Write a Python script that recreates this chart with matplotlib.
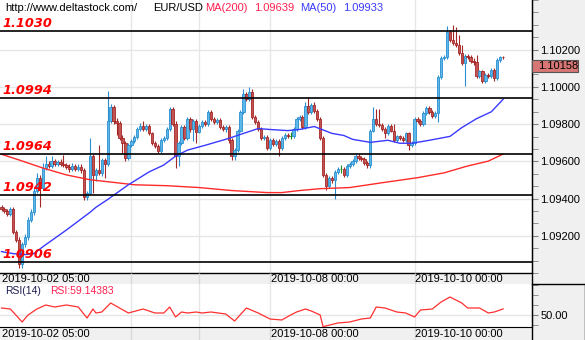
import matplotlib
matplotlib.use("Agg")
import matplotlib.pyplot as plt
import numpy as np
from matplotlib.patches import Rectangle
from matplotlib.lines import Line2D

plt.rcParams['font.family'] = ['Liberation Sans', 'DejaVu Sans']

# ---------------- data (hourly EUR/USD candles) ----------------
opens = [
 1.09353, 1.09342, 1.09332, 1.09316, 1.09342, 1.09221, 1.09178, 1.09051, 1.09157, 1.09194,
 1.09284, 1.09326, 1.09443, 1.09512, 1.09459, 1.09564, 1.09586, 1.09575, 1.09601, 1.09586,
 1.09596, 1.09586, 1.09580, 1.09570, 1.09559, 1.09575, 1.09559, 1.09570, 1.09554, 1.09406,
 1.09432, 1.09628, 1.09527, 1.09554, 1.09538, 1.09607, 1.09586, 1.09818, 1.09892, 1.09818,
 1.09808, 1.09723, 1.09697, 1.09617, 1.09686, 1.09707, 1.09728, 1.09776, 1.09792, 1.09776,
 1.09792, 1.09750, 1.09697, 1.09681, 1.09654, 1.09713, 1.09723, 1.09776, 1.09882, 1.09802,
 1.09628, 1.09697, 1.09787, 1.09723, 1.09829, 1.09776, 1.09818, 1.09760, 1.09792, 1.09813,
 1.09802, 1.09866, 1.09829, 1.09813, 1.09824, 1.09787, 1.09776, 1.09787, 1.09713, 1.09628,
 1.09660, 1.09765, 1.09866, 1.09961, 1.09935, 1.09972, 1.09839, 1.09813, 1.09776, 1.09723,
 1.09728, 1.09670, 1.09713, 1.09691, 1.09707, 1.09670, 1.09723, 1.09739, 1.09734, 1.09734,
 1.09776, 1.09829, 1.09839, 1.09787, 1.09898, 1.09866, 1.09903, 1.09871, 1.09829, 1.09723,
 1.09527, 1.09469, 1.09512, 1.09501, 1.09543, 1.09559, 1.09559, 1.09527, 1.09575, 1.09586,
 1.09601, 1.09628, 1.09617, 1.09612, 1.09591, 1.09580, 1.09765, 1.09829, 1.09802, 1.09797,
 1.09776, 1.09750, 1.09792, 1.09765, 1.09713, 1.09734, 1.09723, 1.09713, 1.09750, 1.09686,
 1.09697, 1.09829, 1.09818, 1.09802, 1.09861, 1.09887, 1.09866, 1.09845, 1.09861, 1.10051,
 1.10157, 1.10162, 1.10294, 1.10252, 1.10236, 1.10226, 1.10183, 1.10130, 1.10167, 1.10162,
 1.10141, 1.10136, 1.10056, 1.10083, 1.10030, 1.10062, 1.10056, 1.10093, 1.10046, 1.10146,
 1.10160]
highs = [
 1.09363, 1.09353, 1.09342, 1.09353, 1.09353, 1.09231, 1.09194, 1.09168, 1.09210, 1.09300,
 1.09342, 1.09459, 1.09538, 1.09527, 1.09591, 1.09628, 1.09601, 1.09628, 1.09612, 1.09607,
 1.09612, 1.09633, 1.09591, 1.09586, 1.09591, 1.09586, 1.09586, 1.09586, 1.09564, 1.09443,
 1.09723, 1.09638, 1.09564, 1.09686, 1.09617, 1.09617, 1.09977, 1.09908, 1.09903, 1.09834,
 1.09818, 1.09739, 1.09707, 1.09697, 1.09718, 1.09739, 1.09787, 1.09808, 1.09818, 1.09802,
 1.09802, 1.09760, 1.09707, 1.09691, 1.09723, 1.09734, 1.09787, 1.09892, 1.09892, 1.09818,
 1.09707, 1.09797, 1.09797, 1.09839, 1.09839, 1.09829, 1.09829, 1.09802, 1.09824, 1.09824,
 1.09877, 1.09877, 1.09839, 1.09834, 1.09834, 1.09797, 1.09797, 1.09797, 1.09723, 1.09670,
 1.09776, 1.09877, 1.09988, 1.09972, 1.09998, 1.09988, 1.09850, 1.09824, 1.09787, 1.09739,
 1.09739, 1.09723, 1.09723, 1.09718, 1.09718, 1.09734, 1.09750, 1.09750, 1.09755, 1.09787,
 1.09839, 1.09850, 1.09850, 1.09919, 1.09945, 1.09914, 1.09919, 1.09882, 1.09839, 1.09734,
 1.09538, 1.09522, 1.09522, 1.09554, 1.09570, 1.09580, 1.09570, 1.09586, 1.09596, 1.09612,
 1.09638, 1.09638, 1.09628, 1.09623, 1.09601, 1.09776, 1.09892, 1.09882, 1.09882, 1.09808,
 1.09787, 1.09802, 1.09802, 1.09802, 1.09744, 1.09744, 1.09734, 1.09760, 1.09760, 1.09707,
 1.09839, 1.09839, 1.09829, 1.09871, 1.09898, 1.09898, 1.09877, 1.09871, 1.10062, 1.10167,
 1.10173, 1.10326, 1.10305, 1.10331, 1.10321, 1.10279, 1.10226, 1.10178, 1.10178, 1.10173,
 1.10157, 1.10173, 1.10093, 1.10093, 1.10072, 1.10072, 1.10104, 1.10104, 1.10157, 1.10167,
 1.10166]
lows = [
 1.09332, 1.09321, 1.09305, 1.09305, 1.09210, 1.09168, 1.09025, 1.09025, 1.09141, 1.09178,
 1.09273, 1.09310, 1.09432, 1.09353, 1.09448, 1.09554, 1.09564, 1.09564, 1.09575, 1.09575,
 1.09575, 1.09570, 1.09559, 1.09543, 1.09549, 1.09549, 1.09549, 1.09538, 1.09390, 1.09390,
 1.09422, 1.09432, 1.09496, 1.09527, 1.09522, 1.09512, 1.09575, 1.09808, 1.09802, 1.09739,
 1.09713, 1.09644, 1.09601, 1.09607, 1.09676, 1.09697, 1.09718, 1.09765, 1.09765, 1.09765,
 1.09739, 1.09686, 1.09670, 1.09644, 1.09644, 1.09702, 1.09713, 1.09765, 1.09792, 1.09564,
 1.09575, 1.09686, 1.09713, 1.09713, 1.09760, 1.09707, 1.09697, 1.09750, 1.09781, 1.09792,
 1.09792, 1.09818, 1.09802, 1.09802, 1.09776, 1.09765, 1.09760, 1.09697, 1.09607, 1.09607,
 1.09649, 1.09755, 1.09855, 1.09924, 1.09924, 1.09829, 1.09802, 1.09765, 1.09713, 1.09713,
 1.09660, 1.09660, 1.09681, 1.09681, 1.09628, 1.09660, 1.09713, 1.09723, 1.09718, 1.09723,
 1.09765, 1.09818, 1.09776, 1.09776, 1.09855, 1.09855, 1.09861, 1.09818, 1.09713, 1.09517,
 1.09448, 1.09459, 1.09485, 1.09395, 1.09533, 1.09538, 1.09517, 1.09517, 1.09564, 1.09575,
 1.09591, 1.09607, 1.09601, 1.09580, 1.09564, 1.09564, 1.09755, 1.09792, 1.09787, 1.09765,
 1.09723, 1.09739, 1.09755, 1.09702, 1.09702, 1.09713, 1.09702, 1.09702, 1.09660, 1.09676,
 1.09686, 1.09808, 1.09792, 1.09792, 1.09850, 1.09855, 1.09834, 1.09834, 1.09813, 1.10041,
 1.10146, 1.10152, 1.10242, 1.10226, 1.10215, 1.10173, 1.10120, 1.10003, 1.10152, 1.10130,
 1.10120, 1.10046, 1.10046, 1.10019, 1.10019, 1.10046, 1.10046, 1.10030, 1.10035, 1.10136,
 1.10148]
closes = [
 1.09342, 1.09332, 1.09316, 1.09342, 1.09221, 1.09178, 1.09051, 1.09157, 1.09194, 1.09284,
 1.09326, 1.09443, 1.09512, 1.09459, 1.09564, 1.09586, 1.09575, 1.09601, 1.09586, 1.09596,
 1.09586, 1.09580, 1.09570, 1.09559, 1.09575, 1.09559, 1.09570, 1.09554, 1.09406, 1.09432,
 1.09628, 1.09527, 1.09554, 1.09538, 1.09607, 1.09586, 1.09818, 1.09892, 1.09818, 1.09808,
 1.09723, 1.09697, 1.09617, 1.09686, 1.09707, 1.09728, 1.09776, 1.09792, 1.09776, 1.09792,
 1.09750, 1.09697, 1.09681, 1.09654, 1.09713, 1.09723, 1.09776, 1.09882, 1.09802, 1.09628,
 1.09697, 1.09787, 1.09723, 1.09829, 1.09776, 1.09818, 1.09760, 1.09792, 1.09813, 1.09802,
 1.09866, 1.09829, 1.09813, 1.09824, 1.09787, 1.09776, 1.09787, 1.09713, 1.09628, 1.09660,
 1.09765, 1.09866, 1.09961, 1.09935, 1.09972, 1.09839, 1.09813, 1.09776, 1.09723, 1.09728,
 1.09670, 1.09713, 1.09691, 1.09707, 1.09670, 1.09723, 1.09739, 1.09734, 1.09734, 1.09776,
 1.09829, 1.09839, 1.09787, 1.09898, 1.09866, 1.09903, 1.09871, 1.09829, 1.09723, 1.09527,
 1.09469, 1.09512, 1.09501, 1.09543, 1.09559, 1.09559, 1.09527, 1.09575, 1.09586, 1.09601,
 1.09628, 1.09617, 1.09612, 1.09591, 1.09580, 1.09765, 1.09829, 1.09802, 1.09797, 1.09776,
 1.09750, 1.09792, 1.09765, 1.09713, 1.09734, 1.09723, 1.09713, 1.09750, 1.09686, 1.09697,
 1.09829, 1.09818, 1.09802, 1.09861, 1.09887, 1.09866, 1.09845, 1.09861, 1.10051, 1.10157,
 1.10162, 1.10294, 1.10252, 1.10236, 1.10226, 1.10183, 1.10130, 1.10167, 1.10162, 1.10141,
 1.10136, 1.10056, 1.10083, 1.10030, 1.10062, 1.10056, 1.10093, 1.10046, 1.10146, 1.10160,
 1.10158]

ma50_idx = [0, 4, 8, 11, 14, 22, 30, 32, 36, 43, 50, 55, 59, 63, 69, 77, 82, 87, 91, 97,
            101, 106, 112, 116, 119, 125, 131, 135, 139, 145, 152, 156, 161, 166, 170]
ma50_val = [1.09115, 1.09104, 1.09099, 1.09104, 1.09141, 1.09231, 1.09326, 1.09353, 1.09395, 1.09474,
            1.09543, 1.09580, 1.09628, 1.09660, 1.09686, 1.09723, 1.09750, 1.09776, 1.09771, 1.09765,
            1.09771, 1.09787, 1.09750, 1.09739, 1.09718, 1.09702, 1.09713, 1.09697, 1.09697, 1.09713,
            1.09734, 1.09781, 1.09829, 1.09866, 1.09933]

ma200_idx = [0, 6, 14, 22, 30, 39, 45, 56, 67, 78, 90, 95, 101, 108, 118, 129, 141, 150, 158, 165, 170]
ma200_val = [1.09638, 1.09607, 1.09564, 1.09527, 1.09501, 1.09485, 1.09474, 1.09469, 1.09459, 1.09443,
             1.09432, 1.09432, 1.09443, 1.09453, 1.09459, 1.09485, 1.09512, 1.09538, 1.09575, 1.09601,
             1.09639]

rsi_idx = [0, 3, 7, 9, 12, 15, 18, 22, 26, 29, 31, 32, 34, 37, 40, 43, 48, 52, 55, 57,
           59, 61, 63, 66, 68, 71, 76, 79, 83, 87, 91, 95, 98, 100, 103, 105, 108, 109, 114, 118,
           122, 125, 127, 130, 134, 137, 140, 142, 146, 149, 152, 156, 158, 162, 165, 167, 169, 170]
rsi_val = [60.5, 59, 39.5, 50, 59, 65, 62, 65, 62, 45.5, 59, 53, 54.5, 68, 60.5, 53, 59, 53, 53, 62,
           47, 54.5, 53, 54.5, 53, 54.5, 51.5, 41, 60.5, 53, 44, 42.5, 50, 54.5, 59, 56, 50, 32.5, 38, 39.5,
           44, 45.5, 62, 60.5, 54.5, 53, 47, 57.5, 59, 69.5, 77, 68, 60.5, 60.5, 53, 54.5, 57.5, 59.14383]

levels = [1.1030, 1.0994, 1.0964, 1.0942, 1.0906]
level_labels = ["1.1030", "1.0994", "1.0964", "1.0942", "1.0906"]

price_ticks = [1.092, 1.094, 1.096, 1.098, 1.100, 1.102]
price_tick_labels = ["1.09200", "1.09400", "1.09600", "1.09800", "1.10000", "1.10200"]
last_price_label = "1.10158"

rsi_ticks = [50]
rsi_tick_labels = ["50.00"]

date_idx = [0, 91, 140]
date_labels = ["2019-10-02 05:00", "2019-10-08 00:00", "2019-10-10 00:00"]
grid_idx = [44, 67, 91, 140]

# ---------------- layout ----------------
W, H = 585, 340
fig = plt.figure(figsize=(W / 100, H / 100), dpi=100)
fig.patch.set_facecolor('white')
PANEL = '#f0f0f0'
XL = (-0.51, 179.8)


def box(x0, y0, x1, y1):
    return [x0 / W, 1 - y1 / H, (x1 - x0) / W, (y1 - y0) / H]


def fig_rect(x0, y0, x1, y1, fc, ec='none', lw=0, z=-5):
    fig.add_artist(Rectangle((x0 / W, 1 - y1 / H), (x1 - x0) / W, (y1 - y0) / H,
                             transform=fig.transFigure, facecolor=fc, edgecolor=ec,
                             linewidth=lw, zorder=z))


def fig_line(x0, y0, x1, y1, color='black', lw=1.0, z=10):
    fig.add_artist(Line2D([x0 / W, x1 / W], [1 - y0 / H, 1 - y1 / H],
                          transform=fig.transFigure, color=color, linewidth=lw, zorder=z))


fig_rect(532, 0, 585, 340, PANEL)
fig_rect(0, 273, 532, 284, PANEL)
fig_rect(0, 327, 532, 340, PANEL)

# ---------------- main price axes ----------------
ax = fig.add_axes(box(0, 0, 532, 273))
ax.set_xlim(*XL)
ax.set_ylim(1.09020, 1.10464)
ax.set_facecolor('white')

idx = np.arange(len(closes))
o = np.array(opens)
c = np.array(closes)
UP_FACE, UP_EDGE = '#5cb8e8', '#2a8fd0'
DN_FACE, DN_EDGE = '#c25454', '#a52626'
DOJI = '#1e8c1e'
face, edge = [], []
for oo, cc in zip(o, c):
    if cc > oo:
        face.append(UP_FACE); edge.append(UP_EDGE)
    elif cc < oo:
        face.append(DN_FACE); edge.append(DN_EDGE)
    else:
        face.append(DOJI); edge.append(DOJI)

ax.vlines(idx, lows, highs, colors=edge, linewidth=0.8, zorder=3)
ax.bar(idx, c - o, bottom=o, width=0.8, color=face, edgecolor=edge,
       linewidth=0.6, zorder=4)

ax.plot(ma200_idx, ma200_val, color='#ff2a2a', lw=1.0, zorder=4.5)
ax.plot(ma50_idx, ma50_val, color='#3a3aff', lw=1.0, zorder=4.5)

for lv, lab in zip(levels, level_labels):
    ax.axhline(lv, color='black', lw=1.2, zorder=5)
    ax.annotate(lab, xy=(0, lv), xycoords=('axes fraction', 'data'),
                xytext=(2, 3.0), textcoords='offset points', ha='left', va='baseline',
                fontsize=9.3, fontweight='bold', fontstyle='italic',
                family='DejaVu Sans', color='#ff0000', zorder=6)

ax.yaxis.tick_right()
ax.set_yticks(price_ticks)
ax.set_yticklabels(price_tick_labels)
minor = [v for v in np.arange(1.09, 1.1047, 0.002 / 3)
         if min(abs(v - t) for t in price_ticks) > 1e-6]
ax.set_yticks(minor, minor=True)
ax.tick_params(axis='y', which='both', direction='out', length=4, color='#808080',
               pad=2, labelsize=8, labelcolor='black')
ax.set_xticks(grid_idx)
ax.tick_params(axis='x', length=0, labelbottom=False)
ax.grid(True, which='major', color='#e6e6e6', lw=1.0, zorder=0)
ax.set_axisbelow(True)
for s in ['left', 'top']:
    ax.spines[s].set_visible(False)
ax.spines['right'].set_color('black')
ax.spines['bottom'].set_color('black')
ax.spines['bottom'].set_linewidth(1.0)

# header texts
hdr = [("http://www.deltastock.com/", 5, 'black'),
       ("EUR/USD", 153, 'black'),
       ("MA(200)", 205, '#ff2050'),
       ("1.09639", 254, '#ff2050'),
       ("MA(50)", 300, '#3a3aff'),
       ("1.09933", 343, '#3a3aff')]
for txt, xp, col in hdr:
    ax.text(xp / 532, 1 - 8 / 273, txt, transform=ax.transAxes, ha='left', va='center',
            fontsize=8, color=col, zorder=7)

# ---------------- date bands ----------------
for (y0, y1) in [(273, 284), (327, 340)]:
    band = fig.add_axes(box(0, y0, 532, y1))
    band.set_xlim(*XL)
    band.set_ylim(0, 1)
    band.set_facecolor(PANEL)
    band.axis('off')
    band.vlines(grid_idx, 0, 1, colors='#d9d9d9', lw=1.0)
    for di, dl in zip(date_idx, date_labels):
        band.annotate(dl, xy=(di, 0.5), xycoords='data', xytext=(0.6, -0.5),
                      textcoords='offset points', ha='left', va='center',
                      fontsize=8, color='black')

# ---------------- RSI axes ----------------
rax = fig.add_axes(box(0, 284, 532, 327))
rax.set_xlim(*XL)
rax.set_ylim(32, 96.5)
rax.plot(rsi_idx, rsi_val, color='#ff3030', lw=0.9, zorder=3)
rax.yaxis.tick_right()
rax.set_yticks(rsi_ticks)
rax.set_yticklabels(rsi_tick_labels)
rax.set_yticks([35, 65, 80, 95], minor=True)
rax.tick_params(axis='y', which='both', direction='out', length=4, color='#808080',
                pad=2, labelsize=8)
rax.set_xticks(grid_idx)
rax.tick_params(axis='x', length=0, labelbottom=False)
rax.grid(True, which='major', color='#e6e6e6', lw=1.0, zorder=0)
for s in ['left', 'top']:
    rax.spines[s].set_visible(False)
rax.spines['right'].set_color('black')
rax.spines['bottom'].set_color('black')
rax.text(5 / 532, 1 - 7 / 43, "RSI(14)", transform=rax.transAxes, ha='left', va='center',
         fontsize=7.5, color='#1a1a50')
rax.text(50 / 532, 1 - 7 / 43, "RSI:59.14383", transform=rax.transAxes, ha='left',
         va='center', fontsize=7.5, color='#ff2050')

# ---------------- right panel decorations ----------------
fig_line(532, 0, 532, 340, lw=1.0)
fig_line(532, 283.5, 585, 283.5, lw=1.0)
fig_line(584.5, 283.5, 584.5, 340, lw=1.0)
fig_rect(532, 60, 578, 72, '#d87676', ec='#555555', lw=0.8, z=11)
fig.text(538 / W, 1 - 66 / H, last_price_label, ha='left', va='center', fontsize=8,
         color='black', zorder=12)

fig.savefig("out.png", dpi=100)
